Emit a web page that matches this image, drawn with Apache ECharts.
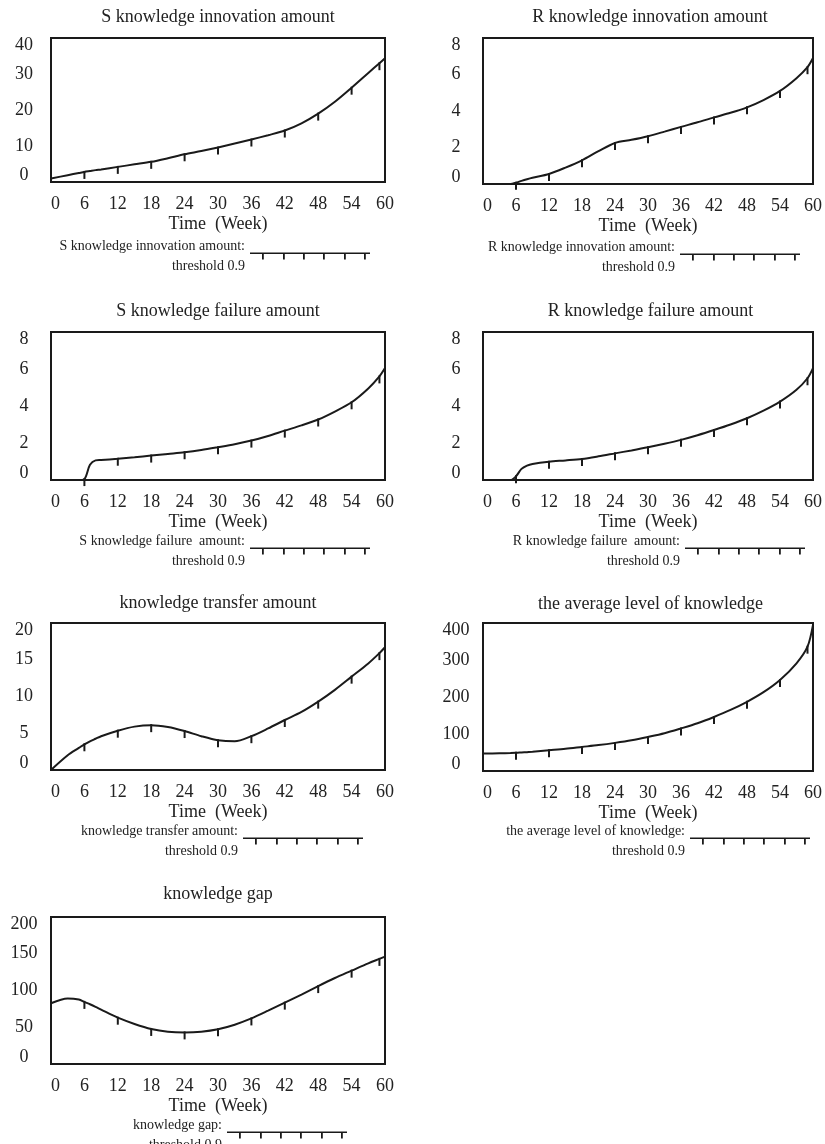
<!DOCTYPE html>
<html lang="en">
<head>
<meta charset="UTF-8">
<title>knowledge simulation</title>
<script src="https://cdn.jsdelivr.net/npm/echarts@6/dist/echarts.min.js"></script>
<style>html,body{margin:0;padding:0;background:#fff;}</style>
</head>
<body>
<div id="dv" style="width:825px;height:1144px;"></div>
<script>
// simulation output (week -> value)
var weeks = [0, 3, 5, 6, 7, 8, 9, 12, 15, 18, 21, 24, 27, 30, 33, 36, 39, 42, 45, 48, 51, 54, 57, 59, 60];
var markWeeks = [6, 12, 18, 24, 30, 36, 42, 48, 54, 59];

var sInnovation = [0.95, 1.9, 2.5, 2.8, 3.05, 3.3, 3.5, 4.2, 4.9, 5.6, 6.6, 7.7, 8.6, 9.6, 10.7, 11.8, 13.0, 14.3, 16.3, 19.0, 22.3, 26.2, 30.3, 33.0, 34.4];
var rInnovation = [0, 0, 0, 0.07, 0.17, 0.26, 0.34, 0.55, 0.9, 1.3, 1.8, 2.25, 2.42, 2.62, 2.87, 3.13, 3.38, 3.65, 3.9, 4.2, 4.6, 5.1, 5.8, 6.4, 6.9];
var sFailure = [0, 0, 0, 0.05, 0.82, 1.06, 1.08, 1.15, 1.23, 1.32, 1.41, 1.5, 1.62, 1.77, 1.93, 2.13, 2.38, 2.67, 2.95, 3.27, 3.7, 4.2, 4.95, 5.6, 6.05];
var rFailure = [0, 0, 0, 0.2, 0.6, 0.78, 0.87, 0.99, 1.06, 1.14, 1.28, 1.44, 1.6, 1.77, 1.96, 2.17, 2.42, 2.7, 3.0, 3.34, 3.75, 4.24, 4.88, 5.5, 6.05];
var transfer = [0, 2.0, 3.0, 3.5, 3.9, 4.25, 4.6, 5.35, 5.9, 6.1, 5.85, 5.3, 4.6, 4.05, 3.9, 4.6, 5.65, 6.8, 7.9, 9.3, 10.9, 12.7, 14.5, 15.9, 16.7];
var avgLevel = [47, 48, 48.5, 49, 50, 51, 52, 56, 60, 65, 70, 76, 83, 92, 102, 115, 129, 146, 165, 187, 213, 246, 291, 336, 395];
var gap = [82.7, 89.2, 87.8, 84.5, 81.3, 77.8, 74, 63, 54.5, 47.7, 44, 43, 44, 47.3, 53.5, 62, 72.5, 83.5, 94.5, 106, 117, 127, 137, 143, 146];

var titles = ['S knowledge innovation amount', 'R knowledge innovation amount', 'S knowledge failure amount',
  'R knowledge failure amount', 'knowledge transfer amount', 'the average level of knowledge', 'knowledge gap'];
var legendLabels = ['S knowledge innovation amount:', 'R knowledge innovation amount:', 'S knowledge failure  amount:',
  'R knowledge failure  amount:', 'knowledge transfer amount:', 'the average level of knowledge:', 'knowledge gap:'];
var yMax = [40, 8, 8, 8, 20, 400, 200];
var values = [sInnovation, rInnovation, sFailure, rFailure, transfer, avgLevel, gap];

// panel boxes: left, top, width, height
var boxes = [
  [51, 38, 334, 144], [483, 38, 334, 146],
  [51, 332, 334, 148], [483, 332, 335, 148],
  [51, 623, 334, 147], [483, 623, 335, 148],
  [51, 917, 334, 147]
];
var titleTop = [8, 8, 302, 302, 594, 595, 885];
var legendTop = [232, 233, 527, 527, 817, 817, 1111];
var legendRight = [455, 25, 455, 20, 462, 15, 478];

var ink = '#1a1a1a';
var legendIcon = 'path://M0,0H120V1.6H0Z M12,0H13.8V7H12Z M33,0H34.8V7H33Z M53,0H54.8V7H53Z M73,0H74.8V7H73Z M94,0H95.8V7H94Z M114,0H115.8V7H114Z';

var grids = [], xAxes = [], yAxes = [], series = [], titleList = [], legends = [];
values.forEach(function (vals, i) {
  var b = boxes[i];
  grids.push({
    left: b[0], top: b[1], width: b[2], height: b[3],
    show: true, borderColor: ink, borderWidth: 2, backgroundColor: 'transparent'
  });
  xAxes.push({
    type: 'value', gridIndex: i, min: 0, max: 60, interval: 6,
    name: 'Time  (Week)', nameLocation: 'middle', nameGap: 33,
    nameTextStyle: { fontSize: 18, color: '#222' },
    axisLine: { show: false }, axisTick: { show: false }, splitLine: { show: false },
    axisLabel: { fontSize: 18, color: '#222', margin: 13, alignMinLabel: 'left' }
  });
  yAxes.push({
    type: 'value', gridIndex: i, min: 0, max: yMax[i], interval: yMax[i] / 4,
    axisLine: { show: false }, axisTick: { show: false }, splitLine: { show: false },
    axisLabel: {
      fontSize: 18, color: '#222', margin: 27, align: 'center', lineHeight: 14,
      verticalAlignMinLabel: 'bottom', verticalAlignMaxLabel: 'top'
    }
  });
  series.push({
    name: titles[i], type: 'line', xAxisIndex: i, yAxisIndex: i,
    smooth: 0.3, showAllSymbol: true, symbolSize: [2, 8], symbolOffset: [0, 3],
    lineStyle: { color: ink, width: 2 }, itemStyle: { color: ink },
    emphasis: { disabled: true },
    data: weeks.map(function (w, k) {
      return { value: [w, vals[k]], symbol: markWeeks.indexOf(w) >= 0 ? 'rect' : 'none' };
    })
  });
  titleList.push({
    text: titles[i], left: b[0] + b[2] / 2, top: titleTop[i], textAlign: 'center', padding: 0,
    textStyle: { fontSize: 18, fontWeight: 'normal', color: '#222' }
  });
  legends.push({
    data: [titles[i]], right: legendRight[i], top: legendTop[i], padding: 0,
    align: 'right', itemWidth: 120, itemHeight: 8, icon: legendIcon, selectedMode: false,
    formatter: function () { return legendLabels[i] + '\nthreshold 0.9'; },
    textStyle: { fontSize: 14, lineHeight: 20, color: '#222', padding: [0, 0, 8, 0] }
  });
});

var myChart = echarts.init(document.getElementById('dv'));
myChart.setOption({
  backgroundColor: '#fff',
  animation: false,
  textStyle: { fontFamily: 'Liberation Serif' },
  title: titleList,
  legend: legends,
  grid: grids,
  xAxis: xAxes,
  yAxis: yAxes,
  series: series
});
</script>
</body>
</html>
